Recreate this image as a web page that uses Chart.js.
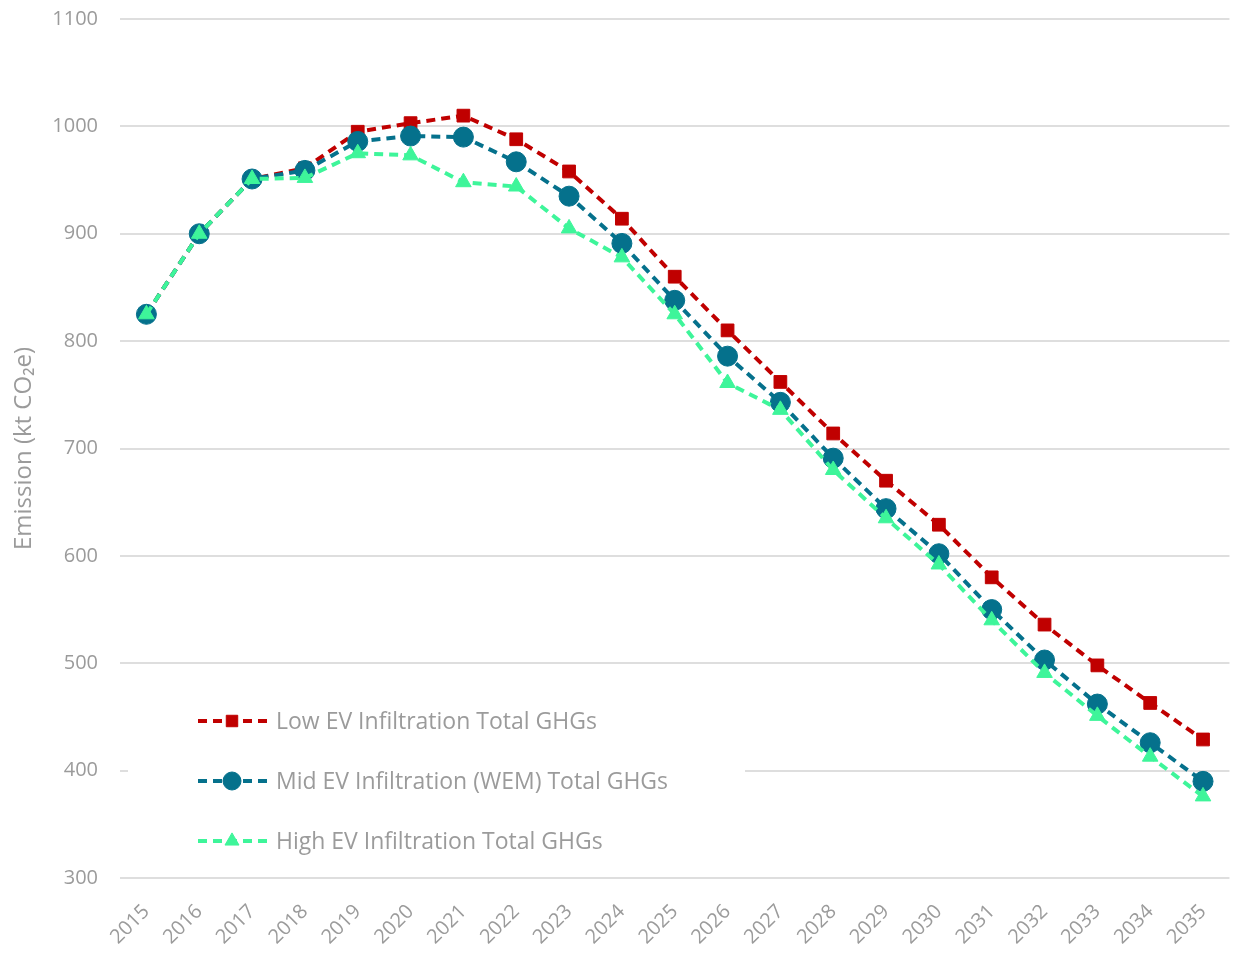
<!DOCTYPE html>
<html>
<head>
<meta charset="utf-8">
<title>EV Infiltration Total GHGs</title>
<script src="https://cdn.jsdelivr.net/npm/chart.js@4.4.1/dist/chart.umd.min.js"></script>
<style>
  html, body { margin: 0; padding: 0; background: #ffffff; }
  #wrap { width: 1234px; height: 956px; position: relative; overflow: hidden; }
  #box { width: 1234px; height: 971px; position: absolute; left: 0; top: -15px; }
</style>
</head>
<body>
<div id="wrap"><div id="box"><canvas id="chart"></canvas></div></div>
<script>
const years = ["2015", "2016", "2017", "2018", "2019", "2020", "2021", "2022", "2023", "2024", "2025",
  "2026", "2027", "2028", "2029", "2030", "2031", "2032", "2033", "2034", "2035"];

const lowEV = [825, 900, 951, 961, 995, 1003, 1010, 988, 958, 914, 860,
  810, 762, 714, 670, 629, 580, 536, 498, 463, 429];
const midEV = [825, 900, 951, 959, 986, 991, 990, 967, 935, 891, 838,
  786, 743, 691, 644, 602, 550, 503, 462, 426, 390];
const highEV = [825, 900, 951, 952, 975, 973, 948, 944, 905, 878, 825,
  761, 736, 680, 635, 592, 540, 491, 451, 413, 376];

const seriesNames = [
  "Low EV Infiltration Total GHGs",
  "Mid EV Infiltration (WEM) Total GHGs",
  "High EV Infiltration Total GHGs"
];

const yMin = 300;
const yMax = 1100;
const yStep = 100;

const textGray = "#9b9b9b";
const fontFamily = "'Open Sans', 'Noto Sans', sans-serif";

// legend drawn inside the plot, lower left, on a white box
// (canvas is shifted up 15px, so y values here are page y + 15)
const insideLegend = {
  id: "insideLegend",
  afterDraw(chart) {
    const ctx = chart.ctx;
    const area = chart.chartArea;
    ctx.save();
    ctx.fillStyle = "#ffffff";
    ctx.fillRect(area.left + 8, 705, 617, 176);

    const rows = [736, 796, 856];
    chart.data.datasets.forEach((ds, i) => {
      const y = rows[i];
      ctx.strokeStyle = ds.borderColor;
      ctx.lineWidth = ds.borderWidth;
      ctx.setLineDash(ds.borderDash);
      ctx.beginPath();
      ctx.moveTo(198, y);
      ctx.lineTo(268, y);
      ctx.stroke();
      ctx.setLineDash([]);

      ctx.fillStyle = ds.pointBackgroundColor;
      ctx.strokeStyle = ds.pointBackgroundColor;
      ctx.lineWidth = 1;
      Chart.helpers.drawPoint(ctx, {
        pointStyle: ds.pointStyle,
        radius: ds.pointRadius * 0.9,
        rotation: 0,
        borderWidth: 1
      }, 232, y);

      ctx.fillStyle = textGray;
      ctx.font = "23px " + fontFamily;
      ctx.textAlign = "left";
      ctx.textBaseline = "middle";
      ctx.fillText(seriesNames[i], 276, y + 1);
    });
    ctx.restore();
  }
};

function pointOpts(color, style, radius) {
  return {
    borderColor: color,
    backgroundColor: color,
    pointBackgroundColor: color,
    pointBorderColor: color,
    pointStyle: style,
    pointRadius: radius,
    pointHoverRadius: radius,
    pointBorderWidth: 1,
    borderWidth: 4,
    borderDash: [9, 6],
    fill: false,
    tension: 0
  };
}

const ctx = document.getElementById("chart").getContext("2d");
new Chart(ctx, {
  type: "line",
  data: {
    labels: years,
    datasets: [
      Object.assign({ label: seriesNames[0], data: lowEV, order: 3 }, pointOpts("#c00000", "rect", 9)),
      Object.assign({ label: seriesNames[1], data: midEV, order: 2 }, pointOpts("#05718c", "circle", 10)),
      Object.assign({ label: seriesNames[2], data: highEV, order: 1 }, pointOpts("#3ef59a", "triangle", 9))
    ]
  },
  options: {
    responsive: true,
    maintainAspectRatio: false,
    animation: false,
    layout: { autoPadding: false, padding: { top: 5, right: 0, bottom: 0, left: 0 } },
    plugins: {
      legend: { display: false },
      tooltip: { enabled: false }
    },
    scales: {
      x: {
        offset: true,
        grid: { display: false },
        border: { display: false },
        ticks: {
          color: textGray,
          font: { family: fontFamily, size: 20 },
          minRotation: 45,
          maxRotation: 45,
          padding: 14
        },
        afterFit(scale) { scale.height = 78; }
      },
      y: {
        min: yMin,
        max: yMax,
        border: { display: false },
        grid: { color: "#dedede", lineWidth: 2, drawTicks: false },
        ticks: {
          stepSize: yStep,
          color: textGray,
          font: { family: fontFamily, size: 20 },
          padding: 22,
          callback: (v) => String(v)
        },
        title: {
          display: true,
          text: "Emission (kt CO\u2082e)",
          color: textGray,
          font: { family: fontFamily, size: 24 },
          padding: { top: 10, bottom: 0 }
        },
        afterFit(scale) { scale.width = 120; }
      }
    }
  },
  plugins: [insideLegend]
});
</script>
</body>
</html>
